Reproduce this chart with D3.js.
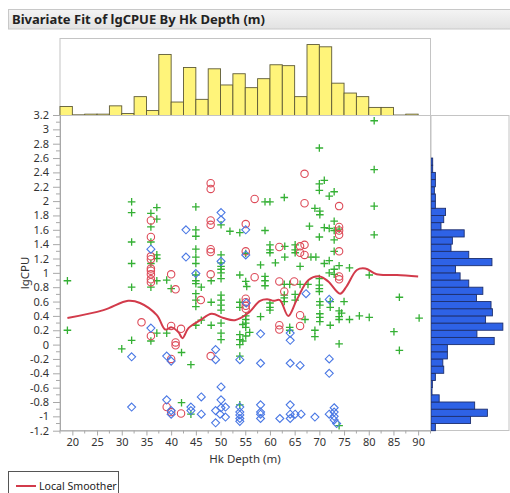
<!DOCTYPE html>
<html>
<head>
<meta charset="utf-8">
<script src="https://cdn.jsdelivr.net/npm/d3@7"></script>
<style>
  html, body { margin: 0; padding: 0; background: #fff; }
  svg { display: block; font-family: "Noto Sans", "Open Sans", sans-serif; }
</style>
</head>
<body>
<svg id="chart" width="510" height="493"></svg>
<script>
// ---- data ----
const titleText = "Bivariate Fit of lgCPUE By Hk Depth (m)";
const xLabel = "Hk Depth (m)";
const yLabel = "lgCPU";
const xTicks = [20, 25, 30, 35, 40, 45, 50, 55, 60, 65, 70, 75, 80, 85, 90];
const yTicks = [-1.2, -1, -0.8, -0.6, -0.4, -0.2, 0, 0.2, 0.4, 0.6, 0.8, 1, 1.2, 1.4, 1.6, 1.8, 2, 2.2, 2.4, 2.6, 2.8, 3, 3.2];

// depth histogram, 2.5 m bins starting at 17.5
const depthBinStart = 17.5, depthBinWidth = 2.5;
const depthHistHeights = [2.0, 0, 0.15, 0.3, 0.3, 2.15, 0.45, 4.2, 1.1, 13.6, 3.0, 10.7, 3.6, 10.4, 6.8,
  9.3, 6.2, 8.2, 11.3, 11.1, 4.2, 15.8, 15.3, 7.2, 5.0, 4.2, 1.8, 1.8, 0.1, 0.3];

// lgCPU histogram, 0.1 bins starting at -1.2
const cpuBinStart = -1.2, cpuBinWidth = 0.1;
const cpuHistHeights = [0.96, 8.7, 12.4, 9.6, 1.8, 0, 0.22, 0.3, 0.96, 2.8, 2.6, 3.6, 3.6, 13.9, 10.1, 15.8,
  12, 13.5, 13.2, 10, 11.4, 8.3, 6.4, 5.4, 13.4, 8.3, 4.4, 4.7, 7.3, 2.2, 2.8, 3.2, 0.96, 0.96, 0.74, 0.96,
  0.96, 0, 0, 0.37, 0, 0, 0, 0.37];

// observations, [depth, lgCPU], one array per marker group
const crossPts = [
  [19.0, 0.89], [19.0, 0.20], [30.0, -0.06],
  [32.0, 1.99], [32.0, 1.84], [32.0, 1.43], [32.0, 1.13], [32.0, 0.80], [32.0, 0.06],
  [35.9, 1.83], [35.9, 1.64], [35.9, 1.43], [35.9, 1.13], [35.9, 0.80], [35.9, 0.05],
  [37.1, 1.91], [37.1, 1.75], [37.1, 1.25], [37.1, 1.20], [37.1, 0.89], [37.1, 0.16],
  [39.1, 0.90], [39.1, 0.16], [40.0, 0.78], [42.1, -0.11], [42.1, -0.81], [44.0, -0.28], [44.0, -0.97],
  [45.0, 1.92], [45.0, 1.60], [45.0, 1.51], [45.0, 1.33], [45.0, 1.22], [45.0, 1.13], [45.0, 0.97],
  [45.0, 0.89], [45.0, 0.85], [45.0, 0.71], [45.0, 0.62], [45.0, 0.53], [45.0, 0.27],
  [46.1, 0.80], [46.1, 0.34], [48.1, 0.89], [48.1, 0.59], [48.1, 0.27],
  [50.1, 1.67], [50.1, 1.25], [50.1, 1.14], [50.1, 1.09], [50.1, 1.05], [50.1, 1.00], [50.1, 0.92],
  [50.1, 0.69], [50.1, 0.62], [50.1, 0.55], [50.1, 0.48], [50.1, 0.30], [50.1, 0.16], [50.1, 0.07],
  [51.9, 1.58], [53.9, 1.56], [53.9, 0.97], [53.9, 0.59], [53.9, 0.52], [53.9, 0.14], [53.9, 0.07],
  [53.9, 0.00], [53.9, -0.16], [53.9, -0.84],
  [55.1, 1.27], [55.1, 0.88], [55.1, 0.40], [55.1, 0.35], [55.1, 0.30], [55.1, 0.24], [55.1, 0.12],
  [54.5, 0.28], [55.9, 0.17], [54.5, 0.05], [55.3, 0.81],
  [58.1, 1.11], [58.1, 0.39], [59.0, 1.99], [59.0, 1.59], [59.0, 0.95], [59.0, 0.89], [59.0, 0.82],
  [60.0, 1.99], [60.0, 1.39], [60.0, 1.32], [60.0, 1.28], [60.0, 0.58], [60.0, 0.52], [60.0, 0.48],
  [61.1, 1.14], [62.9, 2.05], [63.0, 1.37], [63.0, 1.22], [62.9, 0.84], [62.9, 0.69], [62.9, 0.65], [62.9, 0.60],
  [64.0, 0.84], [64.0, 0.24], [64.0, 0.20], [65.1, 1.39], [65.1, 1.32], [65.1, 1.28], [65.1, 0.70], [65.1, 0.62],
  [66.1, 1.09], [66.1, 0.84], [67.1, 0.35], [68.0, 1.65], [68.3, 1.22], [67.7, 0.84],
  [69.1, 1.90], [69.3, 1.22], [69.1, 0.20], [69.1, 0.11],
  [70.0, 2.74], [70.0, 2.24], [70.0, 2.15], [70.1, 1.86], [70.1, 1.81], [70.0, 1.50], [70.0, 0.92],
  [70.0, 0.83], [70.0, 0.78], [70.0, 0.74], [70.1, 0.60], [70.1, 0.55], [70.1, 0.43], [70.1, 0.38], [70.1, 0.32],
  [71.0, 2.29], [71.0, 1.63], [71.0, 1.13],
  [72.0, 2.07], [72.0, 1.62], [72.0, 1.17], [72.0, 1.00], [72.2, 0.60], [72.2, 0.52], [72.2, 0.27],
  [73.0, 2.13], [73.0, 1.72], [73.0, 1.59], [73.0, 1.46], [73.0, 1.30], [73.0, 1.05], [73.0, 0.98],
  [74.0, 1.61], [74.0, 1.10], [74.0, 0.47], [74.0, 0.39], [74.0, 0.35], [74.0, 0.01], [74.0, -1.13],
  [75.0, 0.60], [74.5, 0.44], [76.1, 1.07], [76.1, 0.35], [78.1, 0.40], [80.1, 0.97], [80.1, 0.38],
  [81.1, 3.12], [81.1, 2.44], [81.1, 1.93], [81.1, 1.53],
  [85.1, 0.18], [86.2, 0.66], [86.2, -0.08], [90.2, 0.37]
];
const circlePts = [
  [34.0, 0.31], [35.9, 1.73], [35.9, 1.50], [35.9, 1.23], [35.9, 1.19], [35.9, 1.06], [35.9, 1.03],
  [35.9, 0.98], [35.9, 0.91], [35.9, 0.87], [35.9, 0.12],
  [40.0, 0.98], [40.9, 0.77], [40.0, 0.26], [42.0, 0.22], [40.9, 0.03], [40.9, -0.01], [40.0, -0.20],
  [39.1, -0.87], [40.0, -0.94], [42.0, -0.96], [46.0, 0.62],
  [48.0, 2.25], [48.0, 2.17], [48.0, 1.73], [48.0, 1.67], [48.0, 1.33], [48.0, 1.29], [48.0, 0.98], [48.0, -0.16],
  [55.1, 1.68], [55.1, 1.30], [55.1, 0.64], [55.1, 0.59], [55.1, 0.54], [55.1, 0.50],
  [56.9, 2.03], [56.9, 0.94], [61.9, 1.36], [61.9, 0.88], [61.9, 0.27], [61.9, 0.21], [62.9, 0.74], [64.9, 0.88],
  [66.1, 1.37], [66.1, 1.28], [66.1, 0.41], [66.1, 0.26],
  [67.0, 2.38], [67.0, 1.97], [67.0, 1.39], [67.0, 1.25],
  [74.0, 1.93], [74.0, 1.64], [74.0, 1.59], [74.0, 1.53], [74.0, 1.30], [74.0, 0.95], [74.0, 0.91]
];
const diamondPts = [
  [32.0, -0.17], [32.0, -0.87], [35.9, 1.33], [35.9, 0.23], [39.1, -0.16], [40.0, -0.23],
  [39.1, -0.77], [40.0, -0.92], [40.0, -0.97], [43.0, 1.60], [43.0, 1.22], [45.0, 0.99],
  [44.0, -0.87], [44.0, -0.92], [46.1, -0.73], [46.1, -0.97],
  [49.0, -0.07], [49.0, -0.21], [49.0, -0.92], [49.0, -1.09], [49.9, -0.97],
  [50.1, 1.84], [50.1, 1.74], [50.1, 1.16], [50.1, -0.59], [50.1, -0.77], [50.1, -0.88],
  [51.0, -0.87], [51.0, -1.01],
  [53.9, -0.21], [53.9, -0.87], [53.9, -0.94], [53.9, -0.98], [53.9, -1.03], [53.9, -1.07],
  [55.1, 1.60], [55.2, 0.58], [55.1, 1.25],
  [58.1, 0.15], [58.1, -0.26], [58.1, -0.84], [58.1, -0.94], [58.1, -0.97], [58.1, -1.03],
  [62.0, -1.03], [64.1, 0.16], [64.1, 0.06], [64.1, -0.26], [64.1, -0.84], [64.1, -0.97], [64.1, -1.03],
  [65.1, -0.97], [66.3, -0.97], [66.1, -0.29], [69.1, -1.01], [67.3, 0.71],
  [72.0, -0.20], [72.0, -0.40], [72.0, 0.63], [72.0, -0.97],
  [73.0, -0.88], [73.0, -0.94], [73.0, -1.00], [73.0, -1.05], [73.5, -1.10]
];

// local smoother fit, [depth, lgCPU]
const smootherPts = [
  [19.0, 0.37], [26.3, 0.48], [31.3, 0.61], [33.7, 0.58], [37.1, 0.41], [38.8, 0.21], [40.1, 0.24],
  [41.5, 0.17], [42.3, 0.09], [43.5, 0.23], [45.9, 0.34], [48.2, 0.43], [50.6, 0.37], [52.9, 0.34],
  [55.6, 0.44], [58.0, 0.61], [59.7, 0.63], [60.7, 0.61], [62.0, 0.62], [63.7, 0.40], [65.4, 0.62],
  [67.8, 0.90], [70.1, 0.95], [71.8, 0.88], [74.2, 0.71], [75.5, 0.81], [77.6, 1.04], [79.3, 1.06],
  [81.6, 0.98], [85.7, 0.97], [90.0, 0.95]
];
const legendLabel = "Local Smoother";

// ---- layout ----
const svg = d3.select("#chart");
const plot = { left: 60, right: 430.5, top: 115.5, bottom: 430.5 };
const topHist = { top: 38.5, bottom: 115.5 };
const sideHist = { left: 431, right: 509 };

const x = d3.scaleLinear().domain([17.5, 92.5]).range([plot.left, plot.right]);
const y = d3.scaleLinear().domain([-1.2, 3.2]).range([430.7, 115]);
const hTop = d3.scaleLinear().domain([0, 17.15]).range([topHist.bottom, topHist.top]);
const hSide = d3.scaleLinear().domain([0, 17.15]).range([sideHist.left, sideHist.right]);

const axisGray = "#a8a8a8";
const textCol = "#333";

// title bar
const tg = svg.append("defs").append("linearGradient").attr("id", "tbg").attr("x1", 0).attr("x2", 0).attr("y1", 0).attr("y2", 1);
tg.append("stop").attr("offset", 0).attr("stop-color", "#f4f4f4");
tg.append("stop").attr("offset", 1).attr("stop-color", "#e2e2e2");
svg.append("rect").attr("x", 8.5).attr("y", 9.5).attr("width", 510).attr("height", 19.5)
  .attr("fill", "url(#tbg)").attr("stroke", "#c8c8c8");
svg.append("text").attr("x", 12).attr("y", 24).attr("font-size", 13).attr("font-weight", "bold")
  .attr("fill", "#222").text(titleText);

// top histogram
svg.append("rect").attr("x", plot.left).attr("y", topHist.top).attr("width", plot.right - plot.left)
  .attr("height", topHist.bottom - topHist.top).attr("fill", "none").attr("stroke", "#c4c4c4");
svg.append("g").selectAll("rect").data(depthHistHeights).join("rect")
  .filter(d => d > 0)
  .attr("x", (d, i) => x(depthBinStart + i * depthBinWidth))
  .attr("width", (d, i) => x(depthBinStart + (i + 1) * depthBinWidth) - x(depthBinStart + i * depthBinWidth))
  .attr("y", d => hTop(d))
  .attr("height", d => topHist.bottom - hTop(d))
  .attr("fill", "#fff47a").attr("stroke", "#5e5a36").attr("stroke-width", 0.9);

// side histogram
svg.append("rect").attr("x", sideHist.left).attr("y", 115.5).attr("width", sideHist.right - sideHist.left)
  .attr("height", 315).attr("fill", "none").attr("stroke", "#c4c4c4");
svg.append("g").selectAll("rect").data(cpuHistHeights).join("rect")
  .filter(d => d > 0)
  .attr("y", (d, i) => y(cpuBinStart + (i + 1) * cpuBinWidth))
  .attr("height", (d, i) => y(cpuBinStart + i * cpuBinWidth) - y(cpuBinStart + (i + 1) * cpuBinWidth))
  .attr("x", sideHist.left)
  .attr("width", d => hSide(d) - sideHist.left)
  .attr("fill", "#2e62e6").attr("stroke", "#1d2f6e").attr("stroke-width", 0.9);

// plot frame
svg.append("rect").attr("x", plot.left).attr("y", plot.top).attr("width", plot.right - plot.left)
  .attr("height", plot.bottom - plot.top).attr("fill", "none").attr("stroke", "#c4c4c4");

// axes
const xAxis = d3.axisBottom(x).tickValues(xTicks).tickSize(5).tickSizeOuter(0).tickFormat(d3.format("d"));
const gx = svg.append("g").attr("transform", `translate(0,${plot.bottom})`).call(xAxis);
const xMinor = d3.range(17.5, 92.6, 2.5).filter(v => v % 5 !== 0);
gx.selectAll(".minor").data(xMinor).join("line").attr("class", "minor")
  .attr("x1", d => x(d)).attr("x2", d => x(d)).attr("y1", 0).attr("y2", 3).attr("stroke", axisGray);

const yAxis = d3.axisLeft(y).tickValues(yTicks).tickSize(7).tickSizeOuter(0).tickFormat(d => String(+d.toFixed(1)));
const gy = svg.append("g").attr("transform", `translate(${plot.left},0)`).call(yAxis);
const yMinor = d3.range(-1.1, 3.2, 0.2).map(v => +v.toFixed(1));
gy.selectAll(".minor").data(yMinor).join("line").attr("class", "minor")
  .attr("y1", d => y(d)).attr("y2", d => y(d)).attr("x1", 0).attr("x2", -4).attr("stroke", axisGray);

[gx, gy].forEach(g => {
  g.select(".domain").attr("stroke", axisGray);
  g.selectAll(".tick line").attr("stroke", axisGray);
  g.selectAll(".tick text").attr("fill", textCol).attr("font-size", 11)
    .attr("font-family", "'Noto Sans', sans-serif");
});
gx.selectAll(".tick text").attr("dy", "0.7em");
gy.selectAll(".tick text").attr("dx", "-1px");

svg.append("text").attr("x", 245).attr("y", 462.5).attr("text-anchor", "middle")
  .attr("font-size", 11.5).attr("fill", textCol).text(xLabel);
svg.append("text").attr("transform", "translate(29,273) rotate(-90)").attr("text-anchor", "middle")
  .attr("font-size", 11.5).attr("fill", textCol).text(yLabel);

// markers
const pts = svg.append("g");
const green = "#34b034", red = "#dd4a58", blue = "#4a78e4";
pts.selectAll(".cross").data(crossPts).join("path").attr("class", "cross")
  .attr("d", d => { const cx = x(d[0]), cy = y(d[1]), r = 3.8;
    return `M${cx - r},${cy}H${cx + r}M${cx},${cy - r}V${cy + r}`; })
  .attr("stroke", green).attr("stroke-width", 1.3).attr("fill", "none");
pts.selectAll(".circ").data(circlePts).join("circle").attr("class", "circ")
  .attr("cx", d => x(d[0])).attr("cy", d => y(d[1])).attr("r", 3.7)
  .attr("fill", "none").attr("stroke", red).attr("stroke-width", 1.1);
pts.selectAll(".diam").data(diamondPts).join("path").attr("class", "diam")
  .attr("d", d => { const cx = x(d[0]), cy = y(d[1]), r = 4;
    return `M${cx},${cy - r}L${cx + r},${cy}L${cx},${cy + r}L${cx - r},${cy}Z`; })
  .attr("fill", "none").attr("stroke", blue).attr("stroke-width", 1.1);

// smoother
const line = d3.line().x(d => x(d[0])).y(d => y(d[1])).curve(d3.curveCatmullRom.alpha(0.5));
svg.append("path").datum(smootherPts).attr("d", line)
  .attr("fill", "none").attr("stroke", "#d23b4b").attr("stroke-width", 2);

// legend
svg.append("rect").attr("x", 8.5).attr("y", 471.5).attr("width", 110).attr("height", 30)
  .attr("fill", "#fff").attr("stroke", "#555");
svg.append("line").attr("x1", 16).attr("x2", 36).attr("y1", 486).attr("y2", 486)
  .attr("stroke", "#d23b4b").attr("stroke-width", 2);
svg.append("text").attr("x", 39).attr("y", 490).attr("font-size", 10.6).attr("fill", "#222").text(legendLabel);
</script>
</body>
</html>
